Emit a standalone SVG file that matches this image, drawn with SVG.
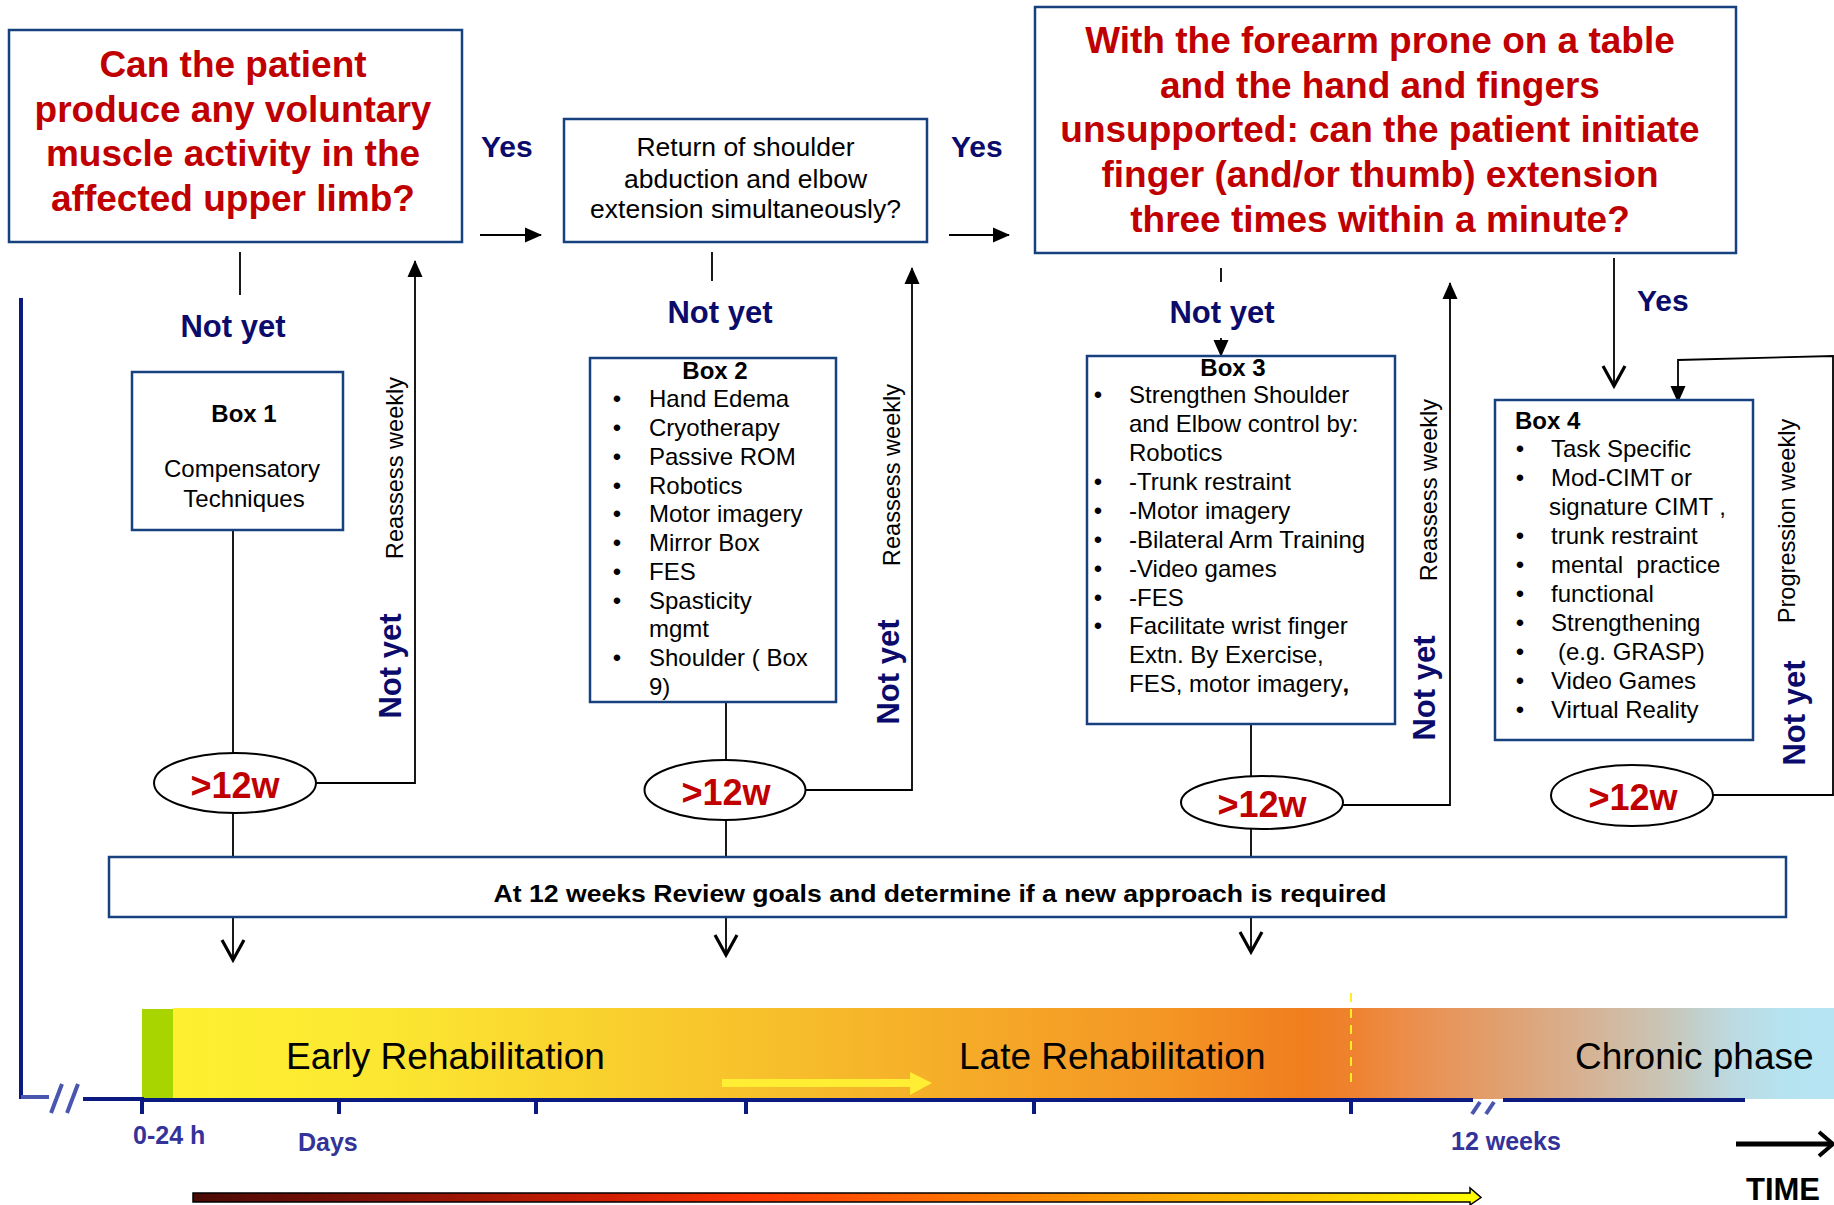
<svg xmlns="http://www.w3.org/2000/svg" width="1834" height="1205" viewBox="0 0 1834 1205">
<defs>
<style>
text{font-family:"Liberation Sans",Arial,Helvetica,sans-serif;}
.box{fill:#fff;stroke:#17407f;stroke-width:2.5;}
.ell{fill:#fff;stroke:#000;stroke-width:2;}
.q{fill:#c00000;font-weight:bold;font-size:37px;text-anchor:middle;}
.q2{fill:#000;font-size:26.5px;text-anchor:middle;}
.lbl{fill:#0b0b6b;font-weight:bold;font-size:31px;}
.yes{fill:#0b0b6b;font-weight:bold;font-size:30px;}
.t{fill:#000;font-size:24px;}
.tb{fill:#000;font-size:24px;font-weight:bold;}
.w{fill:#c00000;font-weight:bold;font-size:36px;text-anchor:middle;}
.rot{fill:#000;font-size:23.6px;text-anchor:middle;}
.ln{fill:none;stroke:#000;stroke-width:1.8;}
.band{fill:#000;font-size:37px;}
.ax{fill:#33339a;font-weight:bold;font-size:25px;}
.nav{stroke:#0a1a80;stroke-width:4;fill:none;}
.lite{stroke:#4a55b0;stroke-width:4;fill:none;}
</style>
<marker id="tri" markerUnits="userSpaceOnUse" markerWidth="17" markerHeight="15" refX="16" refY="7.5" orient="auto" overflow="visible">
<path d="M0,0 L17,7.5 L0,15 z" fill="#000"/>
</marker>
<marker id="vee" markerUnits="userSpaceOnUse" markerWidth="23" markerHeight="24" refX="21" refY="12" orient="auto" overflow="visible">
<path d="M1,1 L21,12 L1,23" fill="none" stroke="#000" stroke-width="3.2" stroke-linejoin="miter"/>
</marker>
<linearGradient id="bandg" x1="173" y1="0" x2="1834" y2="0" gradientUnits="userSpaceOnUse">
<stop offset="0" stop-color="#fdf030"/>
<stop offset="0.12" stop-color="#fce832"/>
<stop offset="0.25" stop-color="#f9d22e"/>
<stop offset="0.42" stop-color="#f6b52a"/>
<stop offset="0.6" stop-color="#f49524"/>
<stop offset="0.68" stop-color="#f07e1e"/>
<stop offset="0.71" stop-color="#ef8230"/>
<stop offset="0.75" stop-color="#eb9050"/>
<stop offset="0.8" stop-color="#e0a070"/>
<stop offset="0.85" stop-color="#d6b293"/>
<stop offset="0.9" stop-color="#c8c6b8"/>
<stop offset="0.94" stop-color="#bcdae2"/>
<stop offset="0.97" stop-color="#b6e3f0"/>
<stop offset="1" stop-color="#b6e4f2"/>
</linearGradient>
<linearGradient id="fireg" x1="193" y1="0" x2="1481" y2="0" gradientUnits="userSpaceOnUse">
<stop offset="0" stop-color="#4a0a05"/>
<stop offset="0.16" stop-color="#8a1205"/>
<stop offset="0.32" stop-color="#d01e00"/>
<stop offset="0.43" stop-color="#ff3300"/>
<stop offset="0.56" stop-color="#ff6600"/>
<stop offset="0.72" stop-color="#ff9d00"/>
<stop offset="0.87" stop-color="#ffcc00"/>
<stop offset="1" stop-color="#ffff00"/>
</linearGradient>
</defs>

<rect x="0" y="0" width="1834" height="1205" fill="#fff"/>

<!-- Timeline -->
<g id="timeline">
<line class="nav" x1="21" y1="298" x2="21" y2="1099"/>
<line class="lite" x1="21" y1="1097" x2="49" y2="1097"/>
<line class="lite" x1="51" y1="1113" x2="62" y2="1084" stroke-width="3"/>
<line class="lite" x1="67" y1="1113" x2="78" y2="1084" stroke-width="3"/>
<rect x="142" y="1009" width="31" height="90" fill="#a8d400"/>
<rect x="173" y="1008" width="1661" height="91" fill="url(#bandg)"/>
<line class="nav" x1="83" y1="1099" x2="142" y2="1099"/>
<line class="nav" x1="142" y1="1100" x2="1473" y2="1100" stroke-width="3"/>
<line class="nav" x1="1503" y1="1100" x2="1745" y2="1100" stroke-width="3"/>
<g class="nav">
<line x1="142" y1="1097" x2="142" y2="1114"/>
<line x1="339" y1="1099" x2="339" y2="1114"/>
<line x1="536" y1="1099" x2="536" y2="1114"/>
<line x1="746" y1="1099" x2="746" y2="1114"/>
<line x1="1034" y1="1099" x2="1034" y2="1114"/>
<line x1="1351" y1="1099" x2="1351" y2="1114"/>
</g>
<line class="lite" x1="1472" y1="1114" x2="1480" y2="1102" stroke-width="3"/>
<line class="lite" x1="1486" y1="1114" x2="1494" y2="1102" stroke-width="3"/>
<line x1="1351" y1="993" x2="1351" y2="1083" stroke="#ffee22" stroke-width="2" stroke-dasharray="9 7"/>
<polygon points="722,1079 910,1079 910,1072 932,1083 910,1095 910,1087 722,1087" fill="#ffee33"/>
<text class="band" x="286" y="1069">Early Rehabilitation</text>
<text class="band" x="959" y="1069">Late Rehabilitation</text>
<text class="band" x="1575" y="1069">Chronic phase</text>
<text class="ax" x="133" y="1144">0-24 h</text>
<text class="ax" x="298" y="1151">Days</text>
<text class="ax" x="1451" y="1150">12 weeks</text>
<line x1="1736" y1="1144" x2="1830" y2="1144" stroke="#000" stroke-width="5"/>
<path d="M1819,1132 L1833,1144 L1819,1156" fill="none" stroke="#000" stroke-width="4"/>
<text x="1746" y="1200" font-size="31" font-weight="bold" fill="#000">TIME</text>
<polygon points="193,1193 1470,1193 1470,1188 1481,1197.5 1470,1205 1470,1202 193,1202" fill="url(#fireg)" stroke="#000" stroke-width="1.5"/>
</g>

<!-- Connectors -->
<g id="connectors">
<line class="ln" x1="480" y1="235" x2="541" y2="235" marker-end="url(#tri)"/>
<line class="ln" x1="949" y1="235" x2="1009" y2="235" marker-end="url(#tri)"/>
<line class="ln" x1="240" y1="252" x2="240" y2="295"/>
<line class="ln" x1="712" y1="252" x2="712" y2="281"/>
<line class="ln" x1="1221" y1="268" x2="1221" y2="282"/>
<line class="ln" x1="1221" y1="338" x2="1221" y2="356" marker-end="url(#tri)"/>
<line class="ln" x1="1614" y1="258" x2="1614" y2="386" marker-end="url(#vee)"/>
<line class="ln" x1="233" y1="530" x2="233" y2="753"/>
<line class="ln" x1="233" y1="813" x2="233" y2="857"/>
<polyline class="ln" points="316,783 415,783 415,261" marker-end="url(#tri)"/>
<line class="ln" x1="726" y1="702" x2="726" y2="760"/>
<line class="ln" x1="726" y1="820" x2="726" y2="857"/>
<polyline class="ln" points="805,790 912,790 912,268" marker-end="url(#tri)"/>
<line class="ln" x1="1251" y1="724" x2="1251" y2="776"/>
<line class="ln" x1="1251" y1="829" x2="1251" y2="857"/>
<polyline class="ln" points="1333,805 1450,805 1450,283" marker-end="url(#tri)"/>
<polyline class="ln" points="1713,795 1833,795 1833,356 1678,360 1678,402" marker-end="url(#tri)"/>
<line class="ln" x1="233" y1="917" x2="233" y2="960" marker-end="url(#vee)"/>
<line class="ln" x1="726" y1="917" x2="726" y2="955" marker-end="url(#vee)"/>
<line class="ln" x1="1251" y1="917" x2="1251" y2="952" marker-end="url(#vee)"/>
<text class="yes" x="481" y="157">Yes</text>
<text class="yes" x="951" y="157">Yes</text>
<text class="yes" x="1637" y="311">Yes</text>
<text class="lbl" x="233" y="337" text-anchor="middle">Not yet</text>
<text class="lbl" x="720" y="323" text-anchor="middle">Not yet</text>
<text class="lbl" x="1222" y="323" text-anchor="middle">Not yet</text>
<text class="rot" transform="translate(403,468) rotate(-90)">Reassess weekly</text>
<text class="rot" transform="translate(900,475) rotate(-90)">Reassess weekly</text>
<text class="rot" transform="translate(1437,490) rotate(-90)">Reassess weekly</text>
<text class="rot" transform="translate(1795,521) rotate(-90)">Progression weekly</text>
<text class="lbl" text-anchor="middle" transform="translate(401,666) rotate(-90)">Not yet</text>
<text class="lbl" text-anchor="middle" transform="translate(899,672) rotate(-90)">Not yet</text>
<text class="lbl" text-anchor="middle" transform="translate(1435,688) rotate(-90)">Not yet</text>
<text class="lbl" text-anchor="middle" transform="translate(1805,713) rotate(-90)">Not yet</text>
</g>

<g id="q1">
<rect class="box" x="9" y="30" width="453" height="212"/>
<text class="q" x="233" y="77">Can the patient</text>
<text class="q" x="233" y="122">produce any voluntary</text>
<text class="q" x="233" y="166">muscle activity in the</text>
<text class="q" x="233" y="211">affected upper limb?</text>
</g>

<g id="q2">
<rect class="box" x="564" y="119" width="363" height="123"/>
<text class="q2" x="745.5" y="156">Return of shoulder</text>
<text class="q2" x="745.5" y="188">abduction and elbow</text>
<text class="q2" x="745.5" y="218">extension simultaneously?</text>
</g>

<g id="q3">
<rect class="box" x="1035" y="7" width="701" height="246"/>
<text class="q" x="1380" y="53">With the forearm prone on a table</text>
<text class="q" x="1380" y="97.5">and the hand and fingers</text>
<text class="q" x="1380" y="142">unsupported: can the patient initiate</text>
<text class="q" x="1380" y="187">finger (and/or thumb) extension</text>
<text class="q" x="1380" y="232">three times within a minute?</text>
</g>

<g id="box1">
<rect class="box" x="132" y="372" width="211" height="158"/>
<text class="tb" x="244" y="422" text-anchor="middle">Box 1</text>
<text class="t" x="242" y="477" text-anchor="middle">Compensatory</text>
<text class="t" x="244" y="507" text-anchor="middle">Techniques</text>
</g>

<g id="box2">
<rect class="box" x="590" y="358" width="246" height="344"/>
<text class="tb" x="715" y="379" text-anchor="middle">Box 2</text>
<g class="t" text-anchor="middle">
<text x="617" y="407">•</text><text x="617" y="436">•</text><text x="617" y="465">•</text>
<text x="617" y="494">•</text><text x="617" y="522">•</text><text x="617" y="551">•</text>
<text x="617" y="580">•</text><text x="617" y="609">•</text><text x="617" y="666">•</text>
</g>
<g class="t">
<text x="649" y="407">Hand Edema</text>
<text x="649" y="436">Cryotherapy</text>
<text x="649" y="465">Passive ROM</text>
<text x="649" y="494">Robotics</text>
<text x="649" y="522">Motor imagery</text>
<text x="649" y="551">Mirror Box</text>
<text x="649" y="580">FES</text>
<text x="649" y="609">Spasticity</text>
<text x="649" y="637">mgmt</text>
<text x="649" y="666">Shoulder ( Box</text>
<text x="649" y="695">9)</text>
</g>
</g>

<g id="box3">
<rect class="box" x="1087" y="356" width="308" height="368"/>
<text class="tb" x="1233" y="376" text-anchor="middle">Box 3</text>
<g class="t" text-anchor="middle">
<text x="1098" y="403">•</text><text x="1098" y="490">•</text><text x="1098" y="519">•</text>
<text x="1098" y="548">•</text><text x="1098" y="577">•</text><text x="1098" y="606">•</text>
<text x="1098" y="634">•</text>
</g>
<g class="t">
<text x="1129" y="403">Strengthen Shoulder</text>
<text x="1129" y="432">and Elbow control by:</text>
<text x="1129" y="461">Robotics</text>
<text x="1129" y="490">-Trunk restraint</text>
<text x="1129" y="519">-Motor imagery</text>
<text x="1129" y="548">-Bilateral Arm Training</text>
<text x="1129" y="577">-Video games</text>
<text x="1129" y="606">-FES</text>
<text x="1129" y="634">Facilitate wrist finger</text>
<text x="1129" y="663">Extn. By Exercise,</text>
<text x="1129" y="692">FES, motor imagery<tspan font-weight="bold">,</tspan></text>
</g>
</g>

<g id="box4">
<rect class="box" x="1495" y="400" width="258" height="340"/>
<text class="tb" x="1515" y="429">Box 4</text>
<g class="t" text-anchor="middle">
<text x="1520" y="457">•</text><text x="1520" y="486">•</text><text x="1520" y="544">•</text>
<text x="1520" y="573">•</text><text x="1520" y="602">•</text><text x="1520" y="631">•</text>
<text x="1520" y="660">•</text><text x="1520" y="689">•</text><text x="1520" y="718">•</text>
</g>
<g class="t">
<text x="1551" y="457">Task Specific</text>
<text x="1551" y="486">Mod-CIMT or</text>
<text x="1549" y="515">signature CIMT ,</text>
<text x="1551" y="544">trunk restraint</text>
<text x="1551" y="573" xml:space="preserve">mental  practice</text>
<text x="1551" y="602">functional</text>
<text x="1551" y="631">Strengthening</text>
<text x="1558" y="660">(e.g. GRASP)</text>
<text x="1551" y="689">Video Games</text>
<text x="1551" y="718">Virtual Reality</text>
</g>
</g>

<g id="e1"><ellipse class="ell" cx="235" cy="783" rx="81" ry="30"/><text class="w" x="235" y="798">&gt;12w</text></g>
<g id="e2"><ellipse class="ell" cx="725" cy="790" rx="80.5" ry="30"/><text class="w" x="726" y="805">&gt;12w</text></g>
<g id="e3"><ellipse class="ell" cx="1262" cy="802.5" rx="81" ry="26.5"/><text class="w" x="1262" y="817">&gt;12w</text></g>
<g id="e4"><ellipse class="ell" cx="1632" cy="795.5" rx="81" ry="30.5"/><text class="w" x="1633" y="810">&gt;12w</text></g>

<g id="review">
<rect class="box" x="109" y="857" width="1677" height="60"/>
<text class="tb" x="940" y="902" text-anchor="middle" font-size="25" textLength="893" lengthAdjust="spacingAndGlyphs">At 12 weeks Review goals and determine if a new approach is required</text>
</g>
</svg>
